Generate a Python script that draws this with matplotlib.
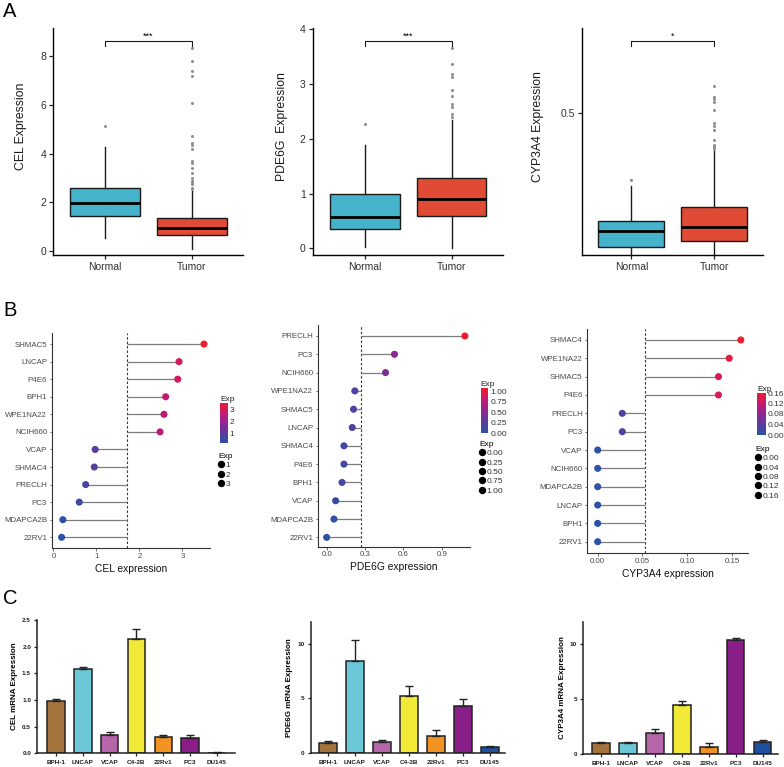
import numpy as np
import matplotlib
matplotlib.use('Agg')
import matplotlib.pyplot as plt
from matplotlib.colors import LinearSegmentedColormap, Normalize
from matplotlib.cm import ScalarMappable
from matplotlib.lines import Line2D
import matplotlib.transforms as mtransforms

plt.rcParams['font.family'] = ['Liberation Sans', 'DejaVu Sans']

# ---------------- data: panel A (box statistics: whislo, q1, med, q3, whishi) ----------------
groups = ['Normal', 'Tumor']
cel_normal = [0.52, 1.42, 1.97, 2.60, 4.28]
cel_normal_out = [5.12]
cel_tumor = [0.10, 0.65, 0.95, 1.35, 2.45]
cel_tumor_out = [2.53, 2.60, 2.74, 2.80, 2.87, 3.01, 3.22, 3.42, 3.60, 3.69, 4.20, 4.34,
                 4.45, 4.72, 6.09, 7.18, 7.39, 7.80, 8.34]
pde_normal = [0.03, 0.353, 0.578, 0.986, 1.89]
pde_normal_out = [2.27]
pde_tumor = [0.0, 0.59, 0.895, 1.28, 2.34]
pde_tumor_out = [2.40, 2.45, 2.59, 2.64, 2.79, 2.89, 3.12, 3.18, 3.37, 3.665]
cyp_normal = [0.0, 0.029, 0.085, 0.119, 0.242]
cyp_normal_out = [0.264]
cyp_tumor = [0.0, 0.050, 0.099, 0.168, 0.365]
cyp_tumor_out = [0.372, 0.380, 0.386, 0.404, 0.439, 0.454, 0.463, 0.509, 0.539, 0.547,
                 0.556, 0.594]
sig_labels = ['***', '***', '*']

# ---------------- data: panel B (lollipops) ----------------
b_cel_lines = ['SHMAC5', 'LNCAP', 'P4E6', 'BPH1', 'WPE1NA22', 'NCIH660', 'VCAP', 'SHMAC4',
               'PRECLH', 'PC3', 'MDAPCA2B', '22RV1']
b_cel_vals = [3.50, 2.92, 2.89, 2.61, 2.57, 2.48, 0.97, 0.95, 0.75, 0.60, 0.22, 0.19]
b_pde_lines = ['PRECLH', 'PC3', 'NCIH660', 'WPE1NA22', 'SHMAC5', 'LNCAP', 'SHMAC4', 'P4E6',
               'BPH1', 'VCAP', 'MDAPCA2B', '22RV1']
b_pde_vals = [1.08, 0.53, 0.46, 0.22, 0.21, 0.20, 0.135, 0.135, 0.12, 0.07, 0.057, 0.0]
b_cyp_lines = ['SHMAC4', 'WPE1NA22', 'SHMAC5', 'P4E6', 'PRECLH', 'PC3', 'VCAP', 'NCIH660',
               'MDAPCA2B', 'LNCAP', 'BPH1', '22RV1']
b_cyp_vals = [0.160, 0.147, 0.135, 0.135, 0.0275, 0.0275, 0.0, 0.0, 0.0, 0.0, 0.0, 0.0]

# ---------------- data: panel C (qPCR bars) ----------------
c_lines = ['BPH-1', 'LNCAP', 'VCAP', 'C4-2B', '22Rv1', 'PC3', 'DU145']
c_colors = ['#A5743D', '#6CC8D8', '#B566AA', '#F2E836', '#F29222', '#8A1E88', '#1E4FA0']
cel_mrna = [0.99, 1.585, 0.345, 2.14, 0.30, 0.29, 0.01]
cel_mrna_err = [0.03, 0.04, 0.06, 0.19, 0.04, 0.05, 0.01]
pde_mrna = [0.96, 8.42, 1.05, 5.20, 1.55, 4.33, 0.60]
pde_mrna_err = [0.16, 1.88, 0.12, 0.90, 0.60, 0.64, 0.08]
cyp_mrna = [0.99, 0.99, 1.95, 4.50, 0.69, 10.36, 1.14]
cyp_mrna_err = [0.15, 0.15, 0.36, 0.33, 0.36, 0.18, 0.15]

# ---------------- figure ----------------
W, H = 784, 767
fig = plt.figure(figsize=(W / 100, H / 100), dpi=100)


def px_axes(x0, y0, x1, y1):
    return fig.add_axes([x0 / W, 1 - y1 / H, (x1 - x0) / W, (y1 - y0) / H])


def px(x, y):
    return (x / W, 1 - y / H)


# panel letters
for letter, (lx, ly) in zip('ABC', [(3, 17), (3, 316), (3, 604)]):
    fig.text(*px(lx, ly), letter, fontsize=14.5, ha='left', va='baseline')

box_colors = ['#45B3C9', '#E04B35']


def box_panel(ax, stats, outs, ylabel, ylim, yticks, yticklabels, sig, label_x):
    bstats = []
    for name, s, o in zip(groups, stats, outs):
        bstats.append(dict(label=name, whislo=s[0], q1=s[1], med=s[2], q3=s[3],
                           whishi=s[4], fliers=o))
    res = ax.bxp(bstats, positions=[1, 2], widths=0.8, patch_artist=True, showcaps=False,
                 boxprops=dict(linewidth=1.0, edgecolor='#1a1a1a'),
                 whiskerprops=dict(linewidth=1.0, color='#1a1a1a'),
                 medianprops=dict(linewidth=2.0, color='black'),
                 flierprops=dict(marker='o', markersize=2.2, markerfacecolor='#8f8f8f',
                                 markeredgecolor='none'))
    for patch, c in zip(res['boxes'], box_colors):
        patch.set_facecolor(c)
    ax.set_xlim(0.40, 2.59)
    ax.set_ylim(*ylim)
    ax.set_yticks(yticks)
    ax.set_yticklabels(yticklabels)
    for sp in ['top', 'right']:
        ax.spines[sp].set_visible(False)
    for sp in ['left', 'bottom']:
        ax.spines[sp].set_linewidth(1.0)
    ax.tick_params(labelsize=7.5, length=3, width=0.9, colors='#222222', labelcolor='#303030', pad=2)
    ax.set_ylabel(ylabel, fontsize=8.8, color='#1a1a1a')
    ax.yaxis.set_label_coords(label_x, 0.565)
    trans = mtransforms.blended_transform_factory(ax.transData, ax.transAxes)
    ax.plot([1, 1, 2, 2], [0.922, 0.941, 0.941, 0.922], transform=trans, color='#1a1a1a',
            lw=0.8, clip_on=False)
    ax.text(1.5, 0.944, sig, transform=trans, ha='center', va='bottom', fontsize=6.5)


axA1 = px_axes(53, 28, 243, 255)
box_panel(axA1, [cel_normal, cel_tumor], [cel_normal_out, cel_tumor_out], 'CEL Expression',
          (-0.164, 9.15), [0, 2, 4, 6, 8], ['0', '2', '4', '6', '8'], sig_labels[0], -0.137)
axA2 = px_axes(312.7, 28, 503, 255)
box_panel(axA2, [pde_normal, pde_tumor], [pde_normal_out, pde_tumor_out], 'PDE6G  Expression',
          (-0.122, 4.024), [0, 1, 2, 3, 4], ['0', '1', '2', '3', '4'], sig_labels[1], -0.128)
axA3 = px_axes(581.7, 28, 763, 255)
box_panel(axA3, [cyp_normal, cyp_tumor], [cyp_normal_out, cyp_tumor_out], 'CYP3A4 Expression',
          (0.0, 0.798), [0.5], ['0.5'], sig_labels[2], -0.207)

# ---------------- panel B ----------------
cmap = LinearSegmentedColormap.from_list(
    'exp', ['#2A52A6', '#5B3C9E', '#8E2694', '#C61A72', '#EE1C2E'])


def lollipop(ax, lines, vals, xlabel, xlim, ylim, xticks, xticklabels,
             cax, cticks, cticklabels, size_labels, leg_xy):
    n = len(lines)
    y = np.arange(n, 0, -1)
    v = np.array(vals, dtype=float)
    m = v.mean()
    ax.hlines(y, m, v, color='#7d7d7d', lw=0.9, zorder=1)
    ax.axvline(m, color='#333333', lw=0.8, ls=(0, (2.2, 1.8)), zorder=0)
    norm = Normalize(v.min(), v.max())
    ax.scatter(v, y, c=v, cmap=cmap, norm=norm, s=26, zorder=3, edgecolors='none')
    ax.set_xlim(*xlim)
    ax.set_ylim(*ylim)
    ax.set_yticks(y)
    ax.set_yticklabels(lines)
    ax.set_xticks(xticks)
    ax.set_xticklabels(xticklabels)
    for sp in ['top', 'right']:
        ax.spines[sp].set_visible(False)
    for sp in ['left', 'bottom']:
        ax.spines[sp].set_linewidth(0.8)
        ax.spines[sp].set_color('#333333')
    ax.tick_params(labelsize=5.7, length=1.8, width=0.6, colors='#555555', labelcolor='#4a4a4a',
                   pad=1.5)
    ax.set_xlabel(xlabel, fontsize=7.4, color='#111111', labelpad=3)
    cb = fig.colorbar(ScalarMappable(norm=norm, cmap=cmap), cax=cax)
    cb.outline.set_visible(False)
    cb.set_ticks(cticks)
    cb.set_ticklabels(cticklabels)
    cax.tick_params(length=0, labelsize=6, labelcolor='#333333', pad=1.5)
    cax.set_title('Exp', loc='left', fontsize=6, pad=1.5, color='#222222')
    handles = [Line2D([], [], marker='o', ls='', color='black', markersize=4.3)
               for _ in size_labels]
    leg = ax.legend(handles, size_labels, title='Exp', loc='upper left',
                    bbox_to_anchor=px(*leg_xy), bbox_transform=fig.transFigure,
                    frameon=False, fontsize=6, title_fontsize=6, handlelength=0.6,
                    handletextpad=0.3, labelspacing=0.18, borderpad=0, borderaxespad=0,
                    alignment='left')
    for t in leg.get_texts():
        t.set_color('#333333')


axB1 = px_axes(51.7, 333, 210, 548)
caxB1 = px_axes(220, 403, 227.7, 443)
lollipop(axB1, b_cel_lines, b_cel_vals, 'CEL expression', (-0.04, 3.64), (0.39, 12.63),
         [0, 1, 2, 3], ['0', '1', '2', '3'], caxB1, [1, 2, 3], ['1', '2', '3'],
         ['1', '2', '3'], (218, 453))

axB2 = px_axes(317.7, 325, 470, 546.7)
caxB2 = px_axes(480.7, 388, 488.3, 433.3)
lollipop(axB2, b_pde_lines, b_pde_vals, 'PDE6G expression', (-0.07, 1.12), (0.49, 12.6),
         [0.0, 0.3, 0.6, 0.9], ['0.0', '0.3', '0.6', '0.9'], caxB2,
         [0, 0.25, 0.5, 0.75, 1.0], ['0.00', '0.25', '0.50', '0.75', '1.00'],
         ['0.00', '0.25', '0.50', '0.75', '1.00'], (479, 441))

axB3 = px_axes(587.3, 329.3, 748, 553.3)
caxB3 = px_axes(757, 393, 766, 435)
lollipop(axB3, b_cyp_lines, b_cyp_vals, 'CYP3A4 expression', (-0.0116, 0.168), (0.37, 12.58),
         [0.0, 0.05, 0.10, 0.15], ['0.00', '0.05', '0.10', '0.15'], caxB3,
         [0, 0.04, 0.08, 0.12, 0.16], ['0.00', '0.04', '0.08', '0.12', '0.16'],
         ['0.00', '0.04', '0.08', '0.12', '0.16'], (755, 446))

# ---------------- panel C ----------------


def bar_panel(ax, vals, errs, ylabel, ylim, yticks, yticklabels, xlim):
    x = np.arange(len(c_lines))
    ax.bar(x, vals, width=0.65, color=c_colors, edgecolor='#222222', linewidth=1.1,
           yerr=[np.zeros(len(vals)), errs], capsize=3.2,
           error_kw=dict(elinewidth=1.0, capthick=1.0, ecolor='#222222'), zorder=2)
    ax.set_xlim(*xlim)
    ax.set_ylim(*ylim)
    ax.set_xticks(x)
    ax.set_xticklabels(c_lines, fontweight='bold')
    ax.set_yticks(yticks)
    ax.set_yticklabels(yticklabels, fontweight='bold')
    for sp in ['top', 'right']:
        ax.spines[sp].set_visible(False)
    for sp in ['left', 'bottom']:
        ax.spines[sp].set_linewidth(1.1)
        ax.spines[sp].set_color('#222222')
    ax.tick_params(labelsize=4.6, length=2.5, width=0.9, colors='#222222', pad=2)
    ax.set_ylabel(ylabel, fontsize=5.8, fontweight='bold', labelpad=3)


axC1 = px_axes(37.3, 620, 235, 753.3)
bar_panel(axC1, cel_mrna, cel_mrna_err, 'CEL mRNA Expression', (0, 2.5),
          [0, 0.5, 1.0, 1.5, 2.0, 2.5], ['0.0', '0.5', '1.0', '1.5', '2.0', '2.5'], (-0.70, 6.68))
axC2 = px_axes(310.7, 621.7, 505, 753.3)
bar_panel(axC2, pde_mrna, pde_mrna_err, 'PDE6G mRNA Expression', (0, 12),
          [0, 5, 10], ['0', '5', '10'], (-0.64, 6.56))
axC3 = px_axes(583.3, 621.7, 778, 754.3)
bar_panel(axC3, cyp_mrna, cyp_mrna_err, 'CYP3A4 mRNA Expression', (0, 12),
          [0, 5, 10], ['0', '5', '10'], (-0.66, 6.57))

fig.savefig('out.png', dpi=100)
